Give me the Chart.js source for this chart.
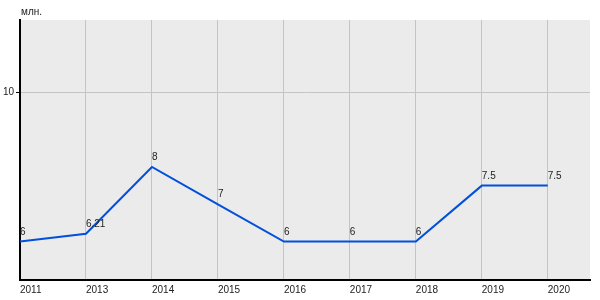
<!DOCTYPE html>
<html>
<head>
<title>млн.</title>
<style>
  html, body { margin: 0; padding: 0; background: #fff; }
  #box { width: 600px; height: 300px; }
</style>
</head>
<body>

<div id="box">
    <canvas id="myChart"></canvas>
</div>

<script src="https://cdn.jsdelivr.net/npm/chart.js"></script>

<script>

    // data
    var years = ['2011', '2013', '2014', '2015', '2016', '2017', '2018', '2019', '2020'];
    var values = [6, 6.21, 8, 7, 6, 6, 6, 7.5, 7.5];
    var yTicks = [10];
    var unitLabel = 'млн.';

    var font = '10px "Liberation Sans", Arial, sans-serif';

    var points = values.map(function (v, i) { return { x: i, y: v }; });

    // grey plot area + unit label
    const backdrop = {
        id: 'backdrop',
        beforeDraw(chart) {
            const a = chart.chartArea;
            const ctx = chart.ctx;
            ctx.save();
            ctx.fillStyle = '#ebebeb';
            ctx.fillRect(a.left, a.top, a.right - a.left, a.bottom - a.top);
            ctx.fillStyle = '#222';
            ctx.font = font;
            ctx.textAlign = 'left';
            ctx.textBaseline = 'alphabetic';
            ctx.fillText(unitLabel, a.left + 1, a.top - 5);
            ctx.restore();
        }
    };

    // value labels above each point
    const valueLabels = {
        id: 'valueLabels',
        afterDatasetsDraw(chart) {
            const ctx = chart.ctx;
            const meta = chart.getDatasetMeta(0);
            ctx.save();
            ctx.fillStyle = '#222';
            ctx.font = font;
            ctx.textAlign = 'left';
            ctx.textBaseline = 'alphabetic';
            meta.data.forEach(function (p, i) {
                ctx.fillText(String(values[i]), p.x, p.y - 7);
            });
            ctx.restore();
        }
    };

    const ctx = document.getElementById('myChart');

    const config = {
        type: 'line',
        data: {
            datasets: [{
                data: points,
                borderColor: '#0050dc',
                borderWidth: 2,
                pointRadius: 0,
                tension: 0
            }]
        },
        options: {
            responsive: true,
            maintainAspectRatio: false,
            animation: false,
            layout: { padding: { top: 20, right: 10, left: 0, bottom: 0 } },
            plugins: {
                legend: { display: false },
                tooltip: { enabled: false }
            },
            scales: {
                x: {
                    type: 'linear',
                    min: 0,
                    max: 8.64,
                    afterBuildTicks(scale) {
                        scale.ticks = years.map(function (y, i) { return { value: i }; });
                    },
                    afterFit(scale) { scale.height = 20; },
                    grid: { color: '#c4c4c4', lineWidth: 1, drawTicks: false },
                    border: { color: '#000', width: 2 },
                    ticks: {
                        align: 'start',
                        padding: 4,
                        maxRotation: 0,
                        autoSkip: false,
                        color: '#222',
                        font: { family: '"Liberation Sans", Arial, sans-serif', size: 10 },
                        callback: function (v) { return years[v]; }
                    }
                },
                y: {
                    min: 4.97,
                    max: 11.94,
                    afterBuildTicks(scale) {
                        scale.ticks = yTicks.map(function (v) { return { value: v }; });
                    },
                    afterFit(scale) { scale.width = 20; },
                    grid: { color: '#c4c4c4', lineWidth: 1, tickLength: 4, tickColor: '#000' },
                    border: { color: '#000', width: 2 },
                    ticks: {
                        padding: 2,
                        color: '#222',
                        font: { family: '"Liberation Sans", Arial, sans-serif', size: 10 }
                    }
                }
            }
        },
        plugins: [backdrop, valueLabels]
    };

    new Chart(ctx, config);

</script>

</body>
</html>
